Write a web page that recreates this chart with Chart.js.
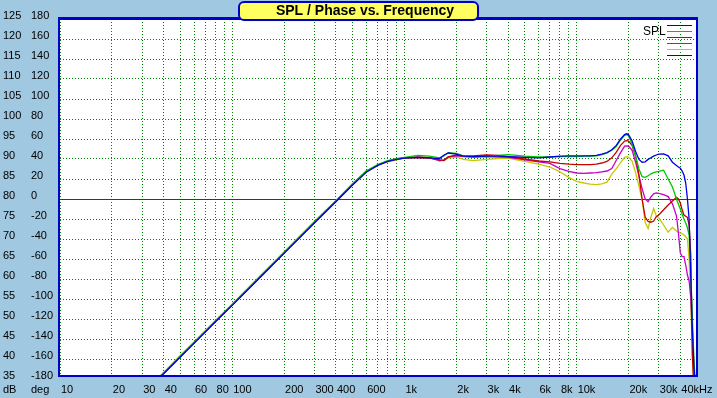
<!DOCTYPE html>
<html><head><meta charset="utf-8">
<script src="https://cdn.jsdelivr.net/npm/chart.js@4/dist/chart.umd.min.js"></script>
<style>
html,body{margin:0;padding:0;background:#a0c8e0;}
canvas{display:block;}
</style></head><body>
<canvas id="c" width="717" height="398"></canvas>
<script>
// ---------- data ----------
const freqHz = [30,40,50,60,80,100,150,200,300,400,500,600,700,800,900,1000,
  1200,1400,1600,1700,1800,2000,2200,2500,
  3000,3500,4000,4500,5000,6000,7000,8000,9000,10000,
  11000,12000,13000,14000,15000,16000,17000,18000,19000,19500,20000,
  21000,22000,23000,24000,25000,26000,27000,28000,29000,30000,
  32000,34000,36000,38000,39000,40000,
  41000,42000,43000,44000,45000,46000,47000,48000,49000];

const splBlue = [31.0,36.3,40.5,43.9,49.3,53.4,61.0,66.4,74.0,79.3,83.5,86.7,88.4,89.4,89.9,90.2,
  90.4,90.3,90.1,91.0,91.5,91.2,90.7,90.6,
  90.7,90.7,90.6,90.5,90.4,90.3,90.5,90.7,90.8,90.8,
  90.8,90.8,90.9,91.2,91.6,92.3,93.4,95.0,96.1,96.3,96.1,
  94.5,91.9,89.9,89.2,89.3,89.9,90.3,90.7,91.0,91.2,
  91.3,90.8,89.2,88.4,88.0,87.7,
  87.0,86.0,84.0,80.0,75.0,61.0,47.5,38.0,33.0];

const splGreen = [31.3,36.6,40.8,44.2,49.6,53.7,61.3,66.7,74.3,79.6,83.8,87.0,88.6,89.6,90.1,90.4,
  90.9,90.7,90.3,90.8,91.6,91.4,90.8,90.5,
  90.7,90.9,91.1,90.9,90.7,90.5,90.5,90.6,90.6,90.6,
  90.7,90.7,90.8,91.1,91.5,92.2,93.2,94.8,95.9,96.1,95.8,
  93.7,90.7,87.5,85.6,85.4,85.8,86.3,86.6,86.8,86.9,
  87.2,85.0,83.0,80.0,78.7,77.5,
  76.2,75.0,74.0,72.8,71.0,62.0,50.0,40.0,33.0];

const splRed = [31.1,36.4,40.6,44.0,49.4,53.5,61.1,66.5,74.1,79.4,83.6,86.8,88.5,89.5,90.0,90.3,
  90.3,90.2,89.8,89.6,90.5,91.0,90.8,90.8,
  91.0,90.9,90.6,90.3,90.0,89.5,89.3,88.9,88.7,88.6,
  88.6,88.6,88.7,89.0,89.4,90.3,91.7,93.4,94.5,94.6,94.5,
  93.4,90.8,86.0,80.0,75.5,74.4,74.2,74.5,75.6,76.0,
  77.3,78.5,79.5,80.4,80.0,79.0,
  77.3,76.0,75.7,75.4,73.5,66.0,41.0,32.0,30.0];

const splMagenta = [31.2,36.5,40.7,44.1,49.5,53.6,61.2,66.6,74.2,79.5,83.7,86.9,88.5,89.5,90.0,90.3,
  90.5,90.3,89.6,89.8,90.6,90.8,90.6,90.5,
  90.6,90.5,90.4,90.1,89.8,89.3,88.9,87.6,86.9,86.5,
  86.4,86.5,86.6,86.8,87.0,87.6,89.7,91.6,93.2,93.3,93.2,
  92.2,89.2,85.8,82.6,80.0,79.3,80.5,81.3,81.5,81.4,
  81.1,80.6,78.8,75.8,71.5,66.5,
  65.6,65.6,63.5,61.0,59.5,55.5,45.5,37.5,33.0];

const splYellow = [31.3,36.6,40.8,44.2,49.6,53.7,61.3,66.7,74.3,79.6,83.8,86.9,88.4,89.3,89.8,90.2,
  90.6,90.4,89.5,89.7,90.3,90.5,89.9,89.6,
  89.9,90.1,90.2,89.8,89.4,88.7,88.0,86.8,85.4,84.4,
  84.0,83.7,83.6,83.8,84.2,86.2,87.6,89.1,90.4,90.6,90.4,
  89.5,86.6,83.3,79.8,74.2,72.6,75.5,77.6,75.8,75.3,
  73.5,71.7,72.9,72.0,71.7,71.5,
  71.3,71.0,70.6,70.0,65.0,54.0,41.0,33.0,30.0];

const dbTicks  = [35,40,45,50,55,60,65,70,75,80,85,90,95,100,105,110,115,120,125];
const degTicks = [-180,-160,-140,-120,-100,-80,-60,-40,-20,0,20,40,60,80,100,120,140,160,180];
const refLevelDb = 80;
const xLabelValues = [10,20,30,40,60,80,100,200,300,400,600,1000,2000,3000,4000,6000,8000,10000,20000,30000,40000];
const xLabelTexts  = ['10','20','30','40','60','80','100','200','300','400','600','1k','2k','3k','4k','6k','8k','10k','20k','30k','40kHz'];
const titleText = 'SPL / Phase vs. Frequency';
const legendText = 'SPL';

// ---------- styling ----------
const BG = '#a0c8e0';
const FRAME = '#0000cc';
const GRID = '#008000';
const REF = '#c00000';
const FONT = "'Liberation Sans', Arial, sans-serif";

const xGridValues = [];
[10,100,1000,10000].forEach(d => { for (let m = 1; m <= 9; m++) { const v = d*m; if (v <= 50000) xGridValues.push(v); } });

function series(vals){ return freqHz.map((f,i)=>({x:f, y:vals[i]})); }
function ds(label, vals, color){
  return {label, data: series(vals), borderColor: color, backgroundColor: color,
    borderWidth: 1.3, pointRadius: 0, tension: 0, fill: false, xAxisID:'x', yAxisID:'y'};
}

Chart.defaults.font.family = FONT;
Chart.defaults.font.size = 11;
Chart.defaults.color = '#000';

const framePlugin = {
  id: 'frame',
  beforeDraw(chart){
    const {ctx, chartArea:a} = chart;
    ctx.save();
    ctx.fillStyle = '#ffffff';
    ctx.fillRect(a.left, a.top, a.right-a.left, a.bottom-a.top);
    ctx.restore();
  },
  beforeDatasetsDraw(chart){
    const {ctx, chartArea:a} = chart;
    const y = Math.round(chart.scales.y.getPixelForValue(refLevelDb)) + 0.5;
    ctx.save();
    ctx.setLineDash([]);
    ctx.lineWidth = 1;
    ctx.strokeStyle = REF;
    ctx.beginPath();
    ctx.moveTo(a.left, y);
    ctx.lineTo(a.right, y);
    ctx.stroke();
    ctx.restore();
  },
  afterDraw(chart){
    const {ctx, chartArea:a} = chart;
    ctx.save();
    ctx.setLineDash([]);
    // strip under bottom frame
    ctx.fillStyle = BG;
    ctx.fillRect(a.left-2, a.bottom-2, a.right-a.left+4, 3);
    // frame
    ctx.fillStyle = FRAME;
    ctx.fillRect(a.left-2, a.top-2, 2, a.bottom-a.top);
    ctx.fillRect(a.left-2, a.top-2, a.right-a.left+3, 3);
    ctx.fillRect(a.left-2, a.bottom-4, a.right-a.left+3, 2);
    ctx.fillRect(a.right-1, a.top-2, 2, a.bottom-a.top);
    // title box
    const cx = chart.width/2;
    ctx.beginPath();
    ctx.roundRect(cx-119.5, 2, 239, 18, 5);
    ctx.fillStyle = '#ffff60';
    ctx.fill();
    ctx.lineWidth = 2;
    ctx.strokeStyle = FRAME;
    ctx.stroke();
    ctx.fillStyle = '#000';
    ctx.font = "bold 14px " + FONT;
    ctx.textAlign = 'center';
    ctx.textBaseline = 'alphabetic';
    ctx.fillText(titleText, cx+6.5, 15);
    // legend
    ctx.font = "12px 'Liberation Sans Narrow', 'Arial Narrow', " + FONT;
    ctx.textAlign = 'left';
    ctx.textBaseline = 'middle';
    ctx.fillText(legendText, a.right-54, a.top+12.5);
    chart.data.datasets.forEach((d,i)=>{
      const y = a.top + 6.5 + 6*i;
      ctx.beginPath();
      ctx.moveTo(a.right-30, y);
      ctx.lineTo(a.right-5, y);
      ctx.lineWidth = 1;
      ctx.strokeStyle = d.borderColor;
      ctx.stroke();
    });
    // axis unit labels
    ctx.font = "11px " + FONT;
    ctx.fillStyle = '#000';
    const yl = chart.scales.x.top + 4 + 6.6;
    ctx.fillText('dB', chart.scales.y.left, yl);
    ctx.fillText('deg', chart.scales.yDeg.left, yl);
    ctx.restore();
  }
};

new Chart(document.getElementById('c'), {
  type: 'line',
  data: {
    datasets: [
      ds('SPL 1', splBlue, '#0000e0'),
      ds('SPL 2', splGreen, '#00c800'),
      ds('SPL 3', splRed, '#c80000'),
      ds('SPL 4', splMagenta, '#c800c8'),
      ds('SPL 5', splYellow, '#c8c800'),
      {label:'Phase', data: [], borderColor:'#0000e0', backgroundColor:'#0000e0', borderWidth:1.3, pointRadius:0, xAxisID:'x', yAxisID:'y'}
    ]
  },
  options: {
    responsive: false,
    animation: false,
    devicePixelRatio: 1,
    layout: { padding: {top: 19, left: 3, right: 20, bottom: 0} },
    plugins: { legend: {display:false}, title:{display:false}, tooltip:{enabled:false} },
    scales: {
      x: {
        type: 'logarithmic', position: 'bottom', min: 10, max: 50000,
        afterBuildTicks: s => { s.ticks = xGridValues.map(v=>({value:v})); },
        afterFit: s => { s.height = 19; },
        ticks: {
          autoSkip: false, maxRotation: 0, minRotation: 0, align: 'start', padding: 4, labelOffset: 1,
          callback: v => { const i = xLabelValues.indexOf(v); return i >= 0 ? xLabelTexts[i] : ''; }
        },
        grid: { color: GRID, lineWidth: 1, drawTicks: false },
        border: { display: false, dash: [1,2] }
      },
      y: {
        type: 'linear', position: 'left', min: 35, max: 125, weight: 2,
        afterBuildTicks: s => { s.ticks = dbTicks.map(v=>({value:v})); },
        afterFit: s => { s.width = 28; },
        ticks: { crossAlign: 'far', padding: 0, labelOffset: -3.5, callback: v => String(v) },
        grid: { color: c => (c.tick && c.tick.value === refLevelDb) ? 'rgba(0,0,0,0)' : GRID, lineWidth: 1, drawTicks: false },
        border: { display: false, dash: [1,2] }
      },
      yDeg: {
        type: 'linear', position: 'left', min: -180, max: 180, weight: 1,
        afterBuildTicks: s => { s.ticks = degTicks.map(v=>({value:v})); },
        afterFit: s => { s.width = 29; },
        ticks: { crossAlign: 'far', padding: 0, labelOffset: -3.5, callback: v => String(v) },
        grid: { display: false, drawTicks: false },
        border: { display: false }
      }
    }
  },
  plugins: [framePlugin]
});
</script>
</body></html>
